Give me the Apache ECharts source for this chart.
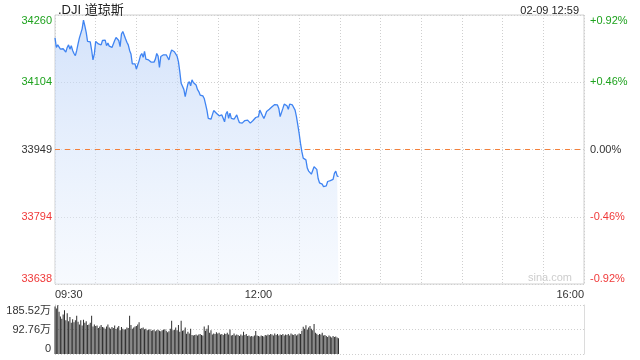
<!DOCTYPE html>
<html>
<head>
<meta charset="utf-8">
<script src="https://cdn.jsdelivr.net/npm/echarts@6/dist/echarts.min.js"></script>
<style>html,body{margin:0;padding:0;background:#fff}#c{width:640px;height:360px}</style>
</head>
<body>
<div id="c"></div>
<script>
// ---- data ----
const titleText = '.DJI 道琼斯';
const stampText = '02-09 12:59';
const prevClose = 33949;
const priceMin = 33638;
const priceMax = 34260;
const leftTickLabels = ['33638', '33794', '33949', '34104', '34260'];
const rightTickLabels = ['-0.92%', '-0.46%', '0.00%', '+0.46%', '+0.92%'];
const timeTickLabels = { '09:30': '09:30', '12:00': '12:00', '16:00': '16:00' };
const volTickLabels = ['0', '92.76万', '185.52万'];
const volMax = 185.52;

const prices = [
34207,34185,34191,34187,34181,34185,34182,34179,34174,34185,
34191,34181,34189,34178,34171,34166,34178,34193,34207,34205,
34228,34248,34235,34220,34199,34197,34198,34179,34156,34170,
34199,34195,34193,34195,34191,34201,34197,34202,34189,34195,
34188,34187,34185,34185,34201,34208,34207,34201,34187,34216,
34222,34218,34205,34197,34191,34178,34170,34147,34148,34147,
34135,34145,34154,34166,34171,34162,34176,34158,34162,34156,
34153,34151,34150,34151,34158,34171,34165,34139,34164,34168,
34168,34165,34168,34164,34156,34170,34179,34175,34175,34173,
34165,34152,34129,34102,34098,34088,34071,34087,34101,34106,
34096,34110,34104,34102,34098,34088,34083,34075,34079,34073,
34067,34054,34040,34021,34019,34019,34029,34039,34037,34033,
34031,34027,34023,34029,34021,34013,34031,34037,34021,34033,
34021,34023,34019,34022,34029,34019,34011,34013,34010,34011,
34016,34013,34017,34015,34010,34013,34016,34020,34023,34021,
34025,34040,34039,34027,34021,34028,34037,34038,34042,34046,
34048,34050,34053,34056,34052,34044,34025,34023,34044,34054,
34057,34050,34042,34054,34056,34052,34048,34040,34025,34006,
33986,33963,33944,33929,33926,33925,33906,33899,33895,33892,
33890,33909,33913,33903,33882,33872,33871,33869,33863,33859,
33865,33875,33879,33877,33879,33880,33894,33899,33888,33886
];

const volumes = [
180,172,185,160,142,133,150,166,128,154,
124,140,118,132,120,128,145,122,112,128,
108,130,118,124,110,112,118,145,104,112,
106,108,98,104,110,102,100,96,104,112,
100,96,102,98,108,95,100,106,90,102,
96,92,94,100,98,145,110,96,100,104,
106,112,120,96,98,100,94,96,90,92,
94,88,90,92,86,90,92,88,86,90,
92,94,88,82,86,96,126,90,92,100,
90,110,84,126,88,90,100,77,84,78,
96,72,70,72,74,70,74,76,72,70,
104,88,96,109,80,90,74,78,76,82,
78,80,74,76,72,78,76,80,74,93,
70,72,78,70,74,72,68,74,70,84,
72,76,68,70,66,68,66,70,87,70,
68,66,70,68,66,72,70,74,72,76,
74,70,78,72,76,70,74,72,76,70,
74,72,76,70,78,74,72,76,70,74,
78,76,88,103,96,109,92,100,106,96,
90,114,80,77,72,76,74,80,70,72,
68,64,70,66,62,68,64,66,62,60
];

// session minute categories 09:30 .. 16:00
const times = [];
for (let m = 9 * 60 + 30; m <= 16 * 60; m++) {
  const h = Math.floor(m / 60), mm = m % 60;
  times.push((h < 10 ? '0' : '') + h + ':' + (mm < 10 ? '0' : '') + mm);
}
// previous-close reference line spans the full session
const prevCloseLine = [[times[0], prevClose], [times[times.length - 1], prevClose]];

// ---- styles ----
const GREEN = '#1ea21e', RED = '#f03a3a', DARK = '#333';
const ORANGE = '#f5803a';
const FONT = 'Liberation Sans, Arial, Noto Sans CJK SC, sans-serif';
function tickColor(i) { return i > 2 ? GREEN : (i < 2 ? RED : DARK); }

const chart = echarts.init(document.getElementById('c'), null, { renderer: 'canvas' });
const grid0 = { left: 55, top: 15, width: 529, height: 269 };
const grid1 = { left: 55, top: 305, width: 529, height: 49 };

const option = {
  animation: false,
  backgroundColor: '#fff',
  textStyle: { fontFamily: FONT },
  title: [
    { text: titleText, left: 53, top: -1, textStyle: { fontSize: 13, fontWeight: 'normal', color: '#222', fontFamily: FONT } },
    { text: stampText, right: 56, top: 0, textStyle: { fontSize: 11, fontWeight: 'normal', color: '#222', fontFamily: FONT } }
  ],
  grid: [
    Object.assign({ show: true, borderColor: '#d0d0d0', borderWidth: 1, backgroundColor: 'transparent' }, grid0),
    Object.assign({ show: false }, grid1)
  ],
  xAxis: [
    {
      type: 'category', gridIndex: 0, data: times, boundaryGap: false,
      axisLine: { show: false }, axisTick: { show: false },
      axisLabel: {
        interval: 0, margin: 5, fontSize: 11, color: DARK, fontFamily: FONT,
        alignMinLabel: 'left', alignMaxLabel: 'right',
        formatter: function (v) { return timeTickLabels[v] || ''; }
      },
      splitLine: {
        show: true, interval: function (i) { return i % 30 === 0; },
        lineStyle: { color: '#cfcfcf', type: [1, 2], width: 1 }
      }
    },
    {
      type: 'category', gridIndex: 1, data: times, boundaryGap: false,
      axisLine: { show: false }, axisTick: { show: false }, axisLabel: { show: false },
      splitLine: { show: false }
    }
  ],
  yAxis: [
    { type: 'value', gridIndex: 0, min: priceMin, max: priceMax, show: false, splitLine: { show: false } },
    {
      type: 'value', gridIndex: 0, position: 'left', min: 0, max: 4, interval: 1,
      axisLine: { show: false }, axisTick: { show: false },
      axisLabel: {
        margin: 3, fontSize: 11, fontFamily: FONT,
        verticalAlignMinLabel: 'bottom', verticalAlignMaxLabel: 'top',
        formatter: function (v) { return leftTickLabels[Math.round(v)]; },
        color: function (v) { return tickColor(Math.round(v)); }
      },
      splitLine: { show: true, lineStyle: { color: '#cfcfcf', type: [1, 2], width: 1 } }
    },
    {
      type: 'value', gridIndex: 0, position: 'right', min: 0, max: 4, interval: 1,
      axisLine: { show: false }, axisTick: { show: false },
      axisLabel: {
        margin: 6, fontSize: 11, fontFamily: FONT,
        verticalAlignMinLabel: 'bottom', verticalAlignMaxLabel: 'top',
        formatter: function (v) { return rightTickLabels[Math.round(v)]; },
        color: function (v) { return tickColor(Math.round(v)); }
      },
      splitLine: { show: false }
    },
    {
      type: 'value', gridIndex: 1, position: 'left', min: 0, max: volMax, interval: volMax / 2,
      axisLine: { show: true, lineStyle: { color: '#c8c8c8' } }, axisTick: { show: false },
      axisLabel: {
        margin: 4, fontSize: 11, color: DARK, fontFamily: FONT,
        verticalAlignMinLabel: 'bottom', verticalAlignMaxLabel: 'top',
        formatter: function (v) { return volTickLabels[Math.round(v / (volMax / 2))]; }
      },
      splitLine: { show: true, lineStyle: { color: '#cfcfcf', type: [1, 2], width: 1 } }
    },
    {
      type: 'value', gridIndex: 1, position: 'right', min: 0, max: volMax,
      axisLine: { show: true, lineStyle: { color: '#dcdcdc' } }, axisTick: { show: false },
      axisLabel: { show: false }, splitLine: { show: false }
    }
  ],
  series: [
    {
      type: 'line', xAxisIndex: 0, yAxisIndex: 0, data: prices,
      showSymbol: false, symbol: 'none', smooth: false,
      lineStyle: { color: '#3f84f2', width: 1.3 },
      areaStyle: {
        origin: 'start',
        color: new echarts.graphic.LinearGradient(0, 0, 0, 1, [
          { offset: 0, color: 'rgba(186,210,248,0.9)' },
          { offset: 1, color: 'rgba(236,243,253,0.6)' }
        ])
      },
      z: 3
    },
    {
      type: 'line', xAxisIndex: 0, yAxisIndex: 0, data: prevCloseLine,
      showSymbol: false, symbol: 'none', silent: true,
      lineStyle: { color: ORANGE, type: [5, 5], width: 1 },
      z: 4
    },
    {
      type: 'bar', xAxisIndex: 1, yAxisIndex: 3, data: volumes,
      barWidth: 1, itemStyle: { color: '#2e2e2e' }, z: 3
    }
  ],
  graphic: [
    { type: 'text', right: 68, top: 272, style: { text: 'sina.com', fill: '#cdcdcd', font: '11px ' + FONT } }
  ]
};
chart.setOption(option);
</script>
</body>
</html>
